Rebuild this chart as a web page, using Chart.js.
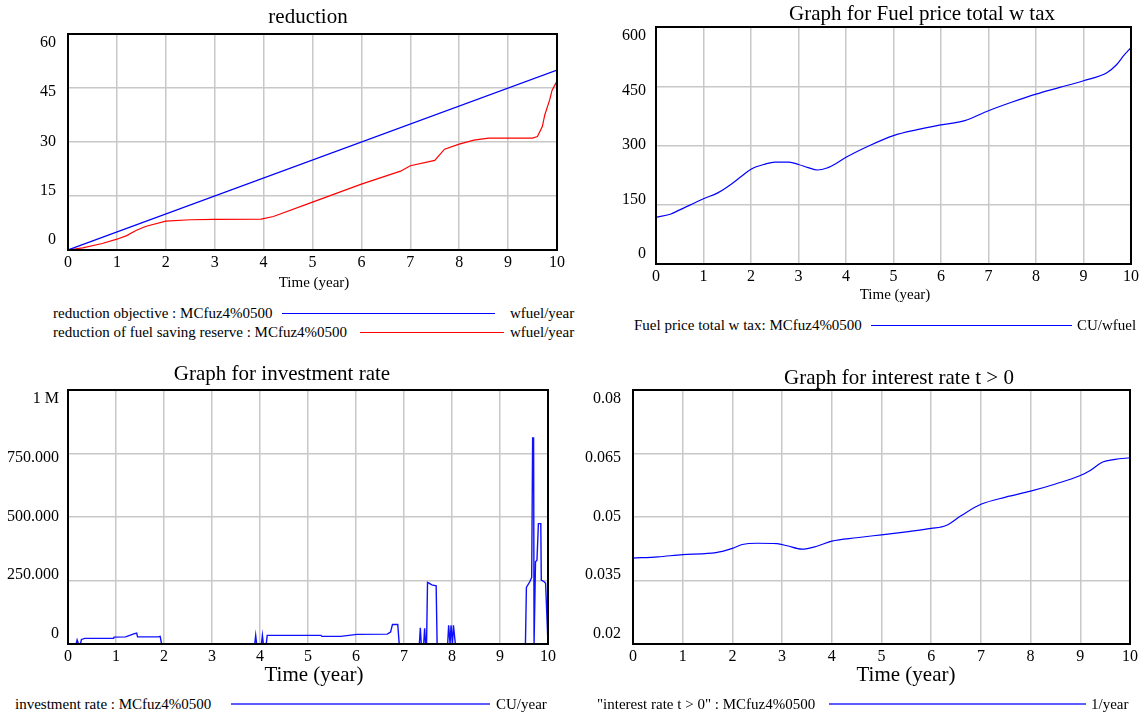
<!DOCTYPE html>
<html>
<head>
<meta charset="utf-8">
<script src="https://cdn.jsdelivr.net/npm/chart.js@4/dist/chart.umd.min.js"></script>
<style>
  html, body { margin:0; padding:0; background:#fff; }
  body { width:1145px; height:714px; position:relative; overflow:hidden; font-family:"Liberation Serif","Times New Roman",serif; color:#000; }
  canvas { position:absolute; }
  .title { position:absolute; width:500px; text-align:center; font-size:21px; line-height:24px; white-space:nowrap; }
  .axt { position:absolute; width:300px; text-align:center; white-space:nowrap; }
  .lg { position:absolute; font-size:15px; line-height:18px; white-space:nowrap; }
  .ln { position:absolute; }
</style>
</head>
<body>
<script>
// ---------- DATA ----------
const xTickLabels = ['0','1','2','3','4','5','6','7','8','9','10'];

// Panel 1: reduction
const objT = [0, 10];
const objV = [0, 50];
const redT = [0, 0.3, 0.7, 1, 1.2, 1.4, 1.6, 2, 2.5, 3, 3.95, 4.2, 5, 6, 6.8, 7, 7.5, 7.7, 8, 8.3, 8.6, 9.5, 9.6, 9.7, 9.75, 9.85, 9.9, 10];
const redV = [0, 0.6, 1.8, 3.0, 4.0, 5.5, 6.6, 8.0, 8.4, 8.5, 8.6, 9.3, 13.3, 18.3, 21.9, 23.4, 24.9, 28.0, 29.4, 30.5, 31.1, 31.1, 31.5, 34.3, 37.5, 41.7, 44.4, 46.9];
const redYLabels = ['60', '45', '30', '15', '0'];

// Panel 2: fuel price
const fuelT = [0, 0.3, 0.5, 1, 1.3, 1.5, 1.8, 2, 2.3, 2.5, 2.8, 3, 3.2, 3.4, 3.6, 3.8, 4, 4.5, 5, 5.5, 6, 6.5, 7, 7.5, 8, 8.5, 9, 9.5, 9.7, 9.85, 10];
const fuelV = [118, 126, 137, 165, 180, 195, 222, 240, 253, 258, 258, 252, 244, 238, 243, 255, 270, 300, 325, 340, 352, 363, 388, 410, 430, 447, 464, 485, 505, 528, 548];
const fuelYLabels = ['600', '450', '300', '150', '0'];

// Panel 3: investment rate
const invT = [0, 0.17, 0.19, 0.22, 0.26, 0.28, 0.35, 0.95, 0.96, 1.2, 1.3, 1.37, 1.43, 1.45, 1.88, 1.92, 1.95,
  3.89, 3.91, 3.93, 4.03, 4.05, 4.07, 4.13, 4.15, 5.27, 5.29, 5.68, 6.02, 6.65, 6.72, 6.76, 6.87, 6.9,
  7.32, 7.34, 7.36, 7.41, 7.43, 7.45, 7.47, 7.49, 7.52, 7.58, 7.67, 7.69,
  7.91, 7.93, 7.96, 7.98, 8.01, 8.03, 8.07,
  9.53, 9.55, 9.62, 9.66, 9.68, 9.70, 9.71, 9.72, 9.74, 9.77, 9.80, 9.85, 9.86, 9.92, 9.95, 10.0];
const invV = [0, 0, 16000, 0, 0, 18000, 22000, 22000, 27000, 28000, 35000, 40000, 43000, 28000, 28000, 30000, 0,
  0, 34000, 0, 0, 34000, 0, 0, 34000, 34000, 30000, 30000, 38000, 39000, 47000, 77000, 77000, 0,
  0, 64000, 0, 0, 62000, 0, 0, 243000, 240000, 233000, 229000, 0,
  0, 74000, 0, 74000, 0, 74000, 0,
  0, 223000, 245000, 262000, 811000, 811000, 0, 0, 324000, 330000, 474000, 474000, 252000, 245000, 239000, 0];
const invYLabels = ['1 M', '750.000', '500.000', '250.000', '0'];

// Panel 4: interest rate
const rateT = [0, 0.5, 1, 1.5, 1.8, 2, 2.2, 2.5, 2.9, 3.1, 3.4, 3.7, 4, 4.5, 5, 5.5, 6, 6.3, 6.6, 7, 7.5, 8, 8.5, 9, 9.2, 9.45, 9.7, 10];
const rateV = [0.0403, 0.0406, 0.0411, 0.0414, 0.0419, 0.0426, 0.0435, 0.0438, 0.0437, 0.0432, 0.0424, 0.0431, 0.0443, 0.0451, 0.0458, 0.0465, 0.0473, 0.0480, 0.0503, 0.0530, 0.0547, 0.0561, 0.0578, 0.0598, 0.0610, 0.0630, 0.0636, 0.0640];
const rateYLabels = ['0.08', '0.065', '0.05', '0.035', '0.02'];

// ---------- HELPERS ----------
const FONT = '"Liberation Serif", "Times New Roman", serif';
const pts = (t, v) => t.map((x, i) => ({ x: x, y: v[i] }));

Chart.register({
  id: 'vensimY',
  afterDraw(chart, args, opts) {
    if (!opts || !opts.labels) return;
    const ctx = chart.ctx, a = chart.chartArea;
    const n = opts.labels.length;
    const y0 = a.top + 9, y1 = a.bottom - 10;
    ctx.save();
    ctx.font = (opts.size || 16) + 'px ' + FONT;
    ctx.fillStyle = '#000';
    ctx.textAlign = 'right';
    ctx.textBaseline = 'middle';
    opts.labels.forEach((lab, i) => {
      ctx.fillText(lab, a.left - opts.gap, y0 + (y1 - y0) * i / (n - 1));
    });
    ctx.restore();
  }
});
Chart.register({
  id: 'frame',
  afterDatasetsDraw(chart) {
    const ctx = chart.ctx, a = chart.chartArea;
    ctx.save();
    ctx.strokeStyle = '#000';
    ctx.lineWidth = 2;
    ctx.strokeRect(a.left, a.top, a.right - a.left, a.bottom - a.top);
    ctx.restore();
  }
});

function addEl(cls, text, css) {
  const d = document.createElement('div');
  d.className = cls;
  if (text !== null) d.textContent = text;
  Object.assign(d.style, css);
  document.body.appendChild(d);
  return d;
}

function makeChart(p) {
  const c = document.createElement('canvas');
  c.width = p.w; c.height = p.h;
  c.style.left = p.left + 'px'; c.style.top = p.top + 'px';
  c.style.width = p.w + 'px'; c.style.height = p.h + 'px';
  document.body.appendChild(c);
  const grid = { color: '#c8c8c8', lineWidth: 1.5, drawTicks: false };
  new Chart(c.getContext('2d'), {
    type: 'line',
    data: { datasets: p.datasets },
    options: {
      responsive: false,
      animation: false,
      devicePixelRatio: 1,
      layout: { padding: { top: p.padTop, right: p.padRight, left: 0, bottom: 0 } },
      plugins: {
        legend: { display: false },
        tooltip: { enabled: false },
        title: { display: false },
        vensimY: { labels: p.yLabels, gap: p.gap, size: 16 }
      },
      elements: { point: { radius: 0 } },
      scales: {
        x: {
          type: 'linear', min: 0, max: 10,
          ticks: { stepSize: 1, autoSkip: false, maxRotation: 0, color: '#000', padding: 5,
                   font: { family: FONT, size: 16, lineHeight: 1 },
                   callback: (v) => xTickLabels[Math.round(v)] },
          grid: grid,
          border: { display: false },
          afterFit: (s) => { s.height = p.xh; }
        },
        y: {
          type: 'linear', min: p.ymin, max: p.ymax,
          ticks: { stepSize: p.ystep, display: false },
          grid: grid,
          border: { display: false },
          afterFit: (s) => { s.width = p.yw; }
        }
      }
    }
  });
}

// ---------- PANEL 1 ----------
makeChart({
  left: 0, top: 0, w: 580, h: 300, padTop: 34, padRight: 23, yw: 68, xh: 50, gap: 12,
  ymin: 0, ymax: 60, ystep: 15, yLabels: redYLabels,
  datasets: [
    { label: 'reduction objective', data: pts(objT, objV), borderColor: '#0000ff', borderWidth: 1.2, tension: 0 },
    { label: 'reduction of fuel saving reserve', data: pts(redT, redV), borderColor: '#ff0000', borderWidth: 1.2, tension: 0 }
  ]
});
addEl('title', 'reduction', { left: (308 - 250) + 'px', top: '4px' });
addEl('axt', 'Time (year)', { left: (314 - 150) + 'px', top: '273px', fontSize: '15px', lineHeight: '18px' });
addEl('lg', 'reduction objective : MCfuz4%0500', { left: '53px', top: '304px' });
addEl('ln', null, { left: '282px', width: '213px', top: '313px', height: '1px', background: '#0000ff' });
addEl('lg', 'wfuel/year', { left: '510px', top: '304px' });
addEl('lg', 'reduction of fuel saving reserve : MCfuz4%0500', { left: '53px', top: '323px' });
addEl('ln', null, { left: '360px', width: '144px', top: '332px', height: '1px', background: '#ff0000' });
addEl('lg', 'wfuel/year', { left: '510px', top: '323px' });

// ---------- PANEL 2 ----------
makeChart({
  left: 580, top: 0, w: 565, h: 310, padTop: 27, padRight: 14, yw: 76, xh: 46, gap: 10,
  ymin: 0, ymax: 600, ystep: 150, yLabels: fuelYLabels,
  datasets: [
    { label: 'Fuel price total w tax', data: pts(fuelT, fuelV), borderColor: '#0000ff', borderWidth: 1.2, cubicInterpolationMode: 'monotone' }
  ]
});
addEl('title', 'Graph for Fuel price total w tax', { left: (922 - 250) + 'px', top: '1px' });
addEl('axt', 'Time (year)', { left: (895 - 150) + 'px', top: '285px', fontSize: '15px', lineHeight: '18px' });
addEl('lg', 'Fuel price total w tax: MCfuz4%0500', { left: '634px', top: '316px' });
addEl('ln', null, { left: '871px', width: '201px', top: '325px', height: '1px', background: '#0000ff' });
addEl('lg', 'CU/wfuel', { left: '1077px', top: '316px' });

// ---------- PANEL 3 ----------
makeChart({
  left: 0, top: 355, w: 570, h: 335, padTop: 35, padRight: 22, yw: 68, xh: 46, gap: 9,
  ymin: 0, ymax: 1000000, ystep: 250000, yLabels: invYLabels,
  datasets: [
    { label: 'investment rate', data: pts(invT, invV), borderColor: '#1010ff', borderWidth: 1.4, tension: 0 }
  ]
});
addEl('title', 'Graph for investment rate', { left: (282 - 250) + 'px', top: '361px' });
addEl('axt', 'Time (year)', { left: (314 - 150) + 'px', top: '662px', fontSize: '21px', lineHeight: '24px' });
addEl('lg', 'investment rate : MCfuz4%0500', { left: '15px', top: '695px' });
addEl('ln', null, { left: '231px', width: '259px', top: '703px', height: '2px', background: '#5c5cff' });
addEl('lg', 'CU/year', { left: '496px', top: '695px' });

// ---------- PANEL 4 ----------
makeChart({
  left: 570, top: 355, w: 575, h: 335, padTop: 35, padRight: 15, yw: 63, xh: 46, gap: 12,
  ymin: 0.02, ymax: 0.08, ystep: 0.015, yLabels: rateYLabels,
  datasets: [
    { label: 'interest rate t > 0', data: pts(rateT, rateV), borderColor: '#0000ff', borderWidth: 1.2, cubicInterpolationMode: 'monotone' }
  ]
});
addEl('title', 'Graph for interest rate t > 0', { left: (899 - 250) + 'px', top: '365px' });
addEl('axt', 'Time (year)', { left: (906 - 150) + 'px', top: '662px', fontSize: '21px', lineHeight: '24px' });
addEl('lg', '"interest rate t > 0" : MCfuz4%0500', { left: '597px', top: '695px' });
addEl('ln', null, { left: '829px', width: '257px', top: '703px', height: '2px', background: '#5c5cff' });
addEl('lg', '1/year', { left: '1091px', top: '695px' });
</script>
</body>
</html>
